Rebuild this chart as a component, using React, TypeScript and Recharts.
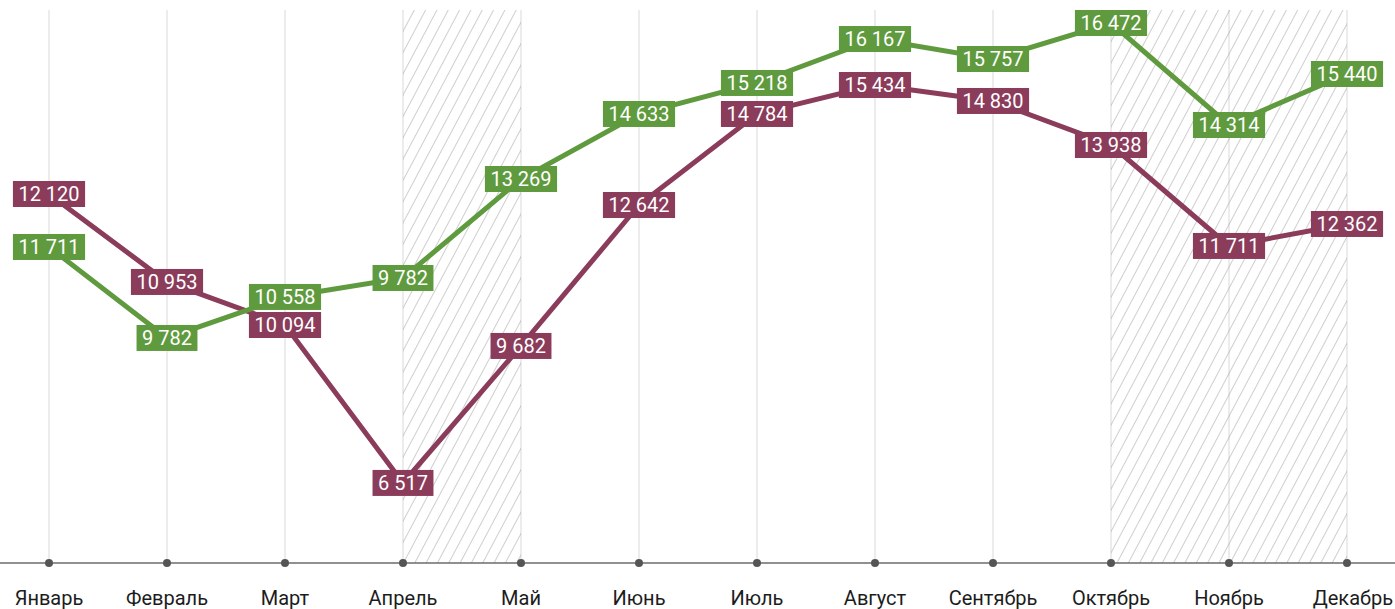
import React from 'react'
import {
  LineChart, Line, XAxis, YAxis, CartesianGrid, ReferenceArea, LabelList,
} from 'recharts'

const months = [
  'Январь', 'Февраль', 'Март', 'Апрель', 'Май', 'Июнь',
  'Июль', 'Август', 'Сентябрь', 'Октябрь', 'Ноябрь', 'Декабрь',
]

// plotted positions
const greenValues = [11629, 9663, 10549, 10959, 13098, 14503, 15173, 16123, 15691, 16469, 14265, 15367]
const redValues = [12774, 10873, 9943, 6530, 9490, 12536, 14503, 15129, 14784, 13833, 11651, 12126]

// printed values
const greenLabels = ['11 711', '9 782', '10 558', '9 782', '13 269', '14 633', '15 218', '16 167', '15 757', '16 472', '14 314', '15 440']
const redLabels = ['12 120', '10 953', '10 094', '6 517', '9 682', '12 642', '14 784', '15 434', '14 830', '13 938', '11 711', '12 362']

const hatched = [
  ['Апрель', 'Май'],
  ['Октябрь', 'Декабрь'],
]

const GREEN = '#5f9b3e'
const RED = '#8b3c5b'
const WIDTH = 1395
const HEIGHT = 609
const FONT = 'Roboto, "Open Sans", sans-serif'

const data = months.map((m, i) => ({ month: m, green: greenValues[i], red: redValues[i] }))

let ctx: CanvasRenderingContext2D | null = null
function textWidth(s: string, size: number) {
  if (!ctx) ctx = document.createElement('canvas').getContext('2d')
  if (!ctx) return s.length * size * 0.55
  ctx.font = `${size}px Roboto`
  return ctx.measureText(s).width
}

function makeLabel(labels: string[], color: string) {
  return (props: any) => {
    const { x, y, index } = props
    const text = labels[index]
    const w = textWidth(text, 20) + 11
    return (
      <g>
        <rect x={x - w / 2} y={y - 13} width={w} height={26} fill={color} />
        <text x={x} y={y + 7} textAnchor="middle" fill="#fff" fontSize={20} fontFamily={FONT}>
          {text}
        </text>
      </g>
    )
  }
}

const MonthTick = (props: any) => {
  const { x, y, payload, index } = props
  const last = index === months.length - 1
  return (
    <g>
      {index === 0 && <line x1={0} x2={WIDTH} y1={y} y2={y} stroke="#6b6b6b" strokeWidth={1.5} />}
      <circle cx={x} cy={y} r={4} fill="#555" />
      <text
        x={last ? WIDTH - 2 : x}
        y={y + 42}
        textAnchor={last ? 'end' : 'middle'}
        fill="#1c1c1c"
        fontSize={20}
        fontFamily={FONT}
      >
        {payload.value}
      </text>
    </g>
  )
}

export default function App() {
  return (
    <div style={{ position: 'absolute', left: 0, top: 0, width: WIDTH, height: HEIGHT, background: '#fff' }}>
      <LineChart width={WIDTH} height={HEIGHT} data={data} margin={{ top: 10, right: 48, left: 49, bottom: 0 }}>
        <defs>
          <pattern id="hatch" width={10} height={10} patternUnits="userSpaceOnUse" patternTransform="rotate(28)">
            <line x1={0} y1={0} x2={0} y2={10} stroke="#9e9e9e" strokeWidth={1} />
          </pattern>
        </defs>
        {hatched.map(([a, b]) => (
          <ReferenceArea key={a} x1={a} x2={b} fill="url(#hatch)" fillOpacity={1} stroke="none" />
        ))}
        <CartesianGrid horizontal={false} stroke="#d9d9d9" />
        <XAxis
          dataKey="month"
          height={46}
          axisLine={false}
          tickLine={false}
          tickSize={0}
          tickMargin={0}
          interval={0}
          tick={<MonthTick />}
        />
        <YAxis hide width={0} domain={[4800, 16750]} />
        <Line dataKey="red" stroke={RED} strokeWidth={5} dot={false} isAnimationActive={false} />
        <Line dataKey="green" stroke={GREEN} strokeWidth={5} dot={false} isAnimationActive={false} />
        <Line dataKey="red" stroke="none" dot={false} activeDot={false} isAnimationActive={false}>
          <LabelList dataKey="red" content={makeLabel(redLabels, RED)} />
        </Line>
        <Line dataKey="green" stroke="none" dot={false} activeDot={false} isAnimationActive={false}>
          <LabelList dataKey="green" content={makeLabel(greenLabels, GREEN)} />
        </Line>
      </LineChart>
    </div>
  )
}
